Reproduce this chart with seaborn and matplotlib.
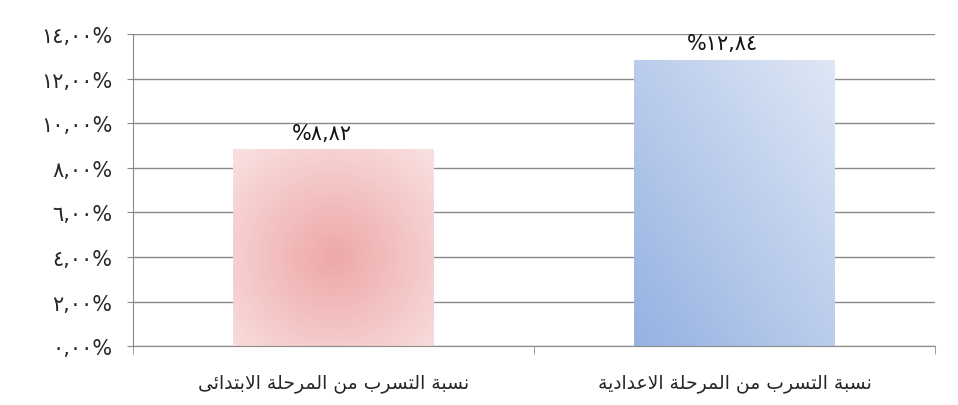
import numpy as np
import pandas as pd
import matplotlib
matplotlib.use("Agg")
import matplotlib.pyplot as plt
import seaborn as sns

# Arabic category labels, written as presentation forms in visual (left-to-right) order
# because matplotlib does no Arabic shaping / bidi
categories = [
    "\uFEF0\uFE8B\uFE8D\uFEAA\uFE98\uFE91\uFEFB\uFE8D "
    "\uFE94\uFEE0\uFEA3\uFEAE\uFEE4\uFEDF\uFE8D "
    "\uFEE6\uFEE3 "
    "\uFE8F\uFEAE\uFEB4\uFE98\uFEDF\uFE8D "
    "\uFE94\uFE92\uFEB4\uFEE7",
    "\uFE94\uFEF3\uFEA9\uFE8D\uFEAA\uFECB\uFEFB\uFE8D "
    "\uFE94\uFEE0\uFEA3\uFEAE\uFEE4\uFEDF\uFE8D "
    "\uFEE6\uFEE3 "
    "\uFE8F\uFEAE\uFEB4\uFE98\uFEDF\uFE8D "
    "\uFE94\uFE92\uFEB4\uFEE7",
]
values = [8.82, 12.84]
y_ticks = [0, 2, 4, 6, 8, 10, 12, 14]

arabic_digits = str.maketrans("0123456789.", "٠١٢٣٤٥٦٧٨٩,")


def ar_num(v):
    return f"{v:.2f}".translate(arabic_digits)


df = pd.DataFrame({"category": categories, "value": values})

sns.set_style("white")
plt.rcParams["font.family"] = ["DejaVu Sans"]

fig = plt.figure(figsize=(9.58, 4.06), dpi=100)
ax = fig.add_axes([0.139, 0.145, 0.837, 0.769])

sns.barplot(data=df, x="category", y="value", width=0.5, color="white",
            edgecolor="none", ax=ax)

# gradient fills clipped to the bars
cmaps = [
    matplotlib.colors.LinearSegmentedColormap.from_list("pk", ["#eea8a8", "#f9dede"]),
    matplotlib.colors.LinearSegmentedColormap.from_list("bl", ["#95b2e2", "#dfe7f5"]),
]
for i, patch in enumerate(ax.patches):
    x0, y0 = patch.get_x(), patch.get_y()
    w, h = patch.get_width(), patch.get_height()
    gx, gy = np.meshgrid(np.linspace(0, 1, 100), np.linspace(0, 1, 100))
    if i == 0:
        grad = np.sqrt((gx - 0.5) ** 2 + (gy - 0.45) ** 2) / 0.7
    else:
        grad = (gx + gy) / 2
    im = ax.imshow(grad, extent=[x0, x0 + w, y0, y0 + h], origin="lower",
                   cmap=cmaps[i], aspect="auto", zorder=2, vmin=0, vmax=1)
    im.set_clip_path(patch)
    ax.text(x0 + w / 2 - 0.03, y0 + h + 0.3, "%" + ar_num(values[i]),
            ha="center", va="bottom", fontsize=15, color="#111111", zorder=4)

ax.set_xlim(-0.5, 1.5)
ax.set_ylim(0, 14)
ax.set_yticks(y_ticks)
ax.set_yticklabels([ar_num(t) + "%" for t in y_ticks], fontsize=15)
ax.set_xticks([0, 1])
ax.set_xticklabels(categories, fontsize=13.5)
ax.set_xlabel("")
ax.set_ylabel("")

ax.grid(axis="y", color="#8a8a8a", linewidth=1)
ax.set_axisbelow(True)
for s in ["top", "right"]:
    ax.spines[s].set_visible(False)
for s in ["left", "bottom"]:
    ax.spines[s].set_color("#8a8a8a")
ax.tick_params(axis="y", length=4, color="#8a8a8a", direction="out", left=True, pad=11)
ax.tick_params(axis="x", length=0, pad=19)
# category boundary ticks on the x axis
ax.set_xticks([-0.5, 0.5, 1.5], minor=True)
ax.tick_params(axis="x", which="minor", length=6, color="#8a8a8a", direction="out", bottom=True)

fig.savefig("out.png", dpi=100)
